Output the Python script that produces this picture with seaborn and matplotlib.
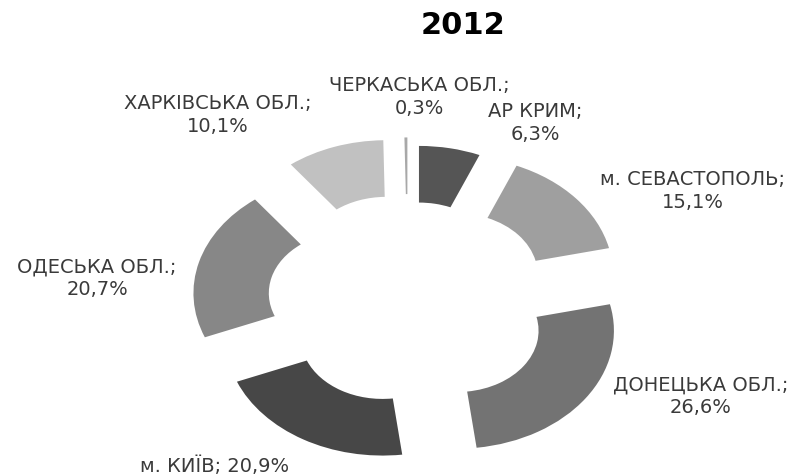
import matplotlib
matplotlib.use("Agg")
import matplotlib.pyplot as plt
import seaborn as sns

# ---- data ----
regions = ["АР КРИМ", "м. СЕВАСТОПОЛЬ", "ДОНЕЦЬКА ОБЛ.", "м. КИЇВ",
           "ОДЕСЬКА ОБЛ.", "ХАРКІВСЬКА ОБЛ.", "ЧЕРКАСЬКА ОБЛ."]
shares = [6.3, 15.1, 26.6, 20.9, 20.7, 10.1, 0.3]
title = "2012"

# ---- style ----
colors = ["#555555", "#9f9f9f", "#737373", "#474747", "#878787", "#c1c1c1", "#a8a8a8"]
explode = [0.355, 0.40, 0.38, 0.32, 0.38, 0.42, 0.42]
# label block centres in pixels (x, y from top) and whether on one line
label_pos = [(535, 123), (693, 191), (701, 396), (215, 466), (97, 278), (218, 115), (419, 97)]
one_line = [False, False, False, True, False, False, False]

sns.set_theme(style="white")
plt.rcParams["font.family"] = ["DejaVu Sans"]

W, H = 798, 477
fig = plt.figure(figsize=(W / 100, H / 100), dpi=100)
ax = fig.add_axes([0, 0, 1, 1])

ax.pie(shares, colors=colors, explode=explode, startangle=90, counterclock=False,
       radius=1.0, wedgeprops=dict(width=0.48, linewidth=0))

# elliptical (stretched) layout: centre (408, 306) px, Rx=157 px, Ry=118 px
cx, cy, rx, ry = 408, 306, 157, 118
ax.set_aspect("auto")
ax.set_xlim(-cx / rx, (W - cx) / rx)
ax.set_ylim(-(H - cy) / ry, cy / ry)
ax.axis("off")

for name, v, (px, py), single in zip(regions, shares, label_pos, one_line):
    pct = f"{v:.1f}".replace(".", ",") + "%"
    txt = f"{name}; {pct}" if single else f"{name};\n{pct}"
    fig.text(px / W, 1 - py / H, txt, ha="center", va="center", multialignment="center",
             fontsize=14, color="#3a3a3a", linespacing=1.25)

fig.text(463 / W, 1 - 26 / H, title, ha="center", va="center",
         fontsize=22, fontweight="bold", color="black")

fig.savefig("out.png", dpi=100, facecolor="white")
